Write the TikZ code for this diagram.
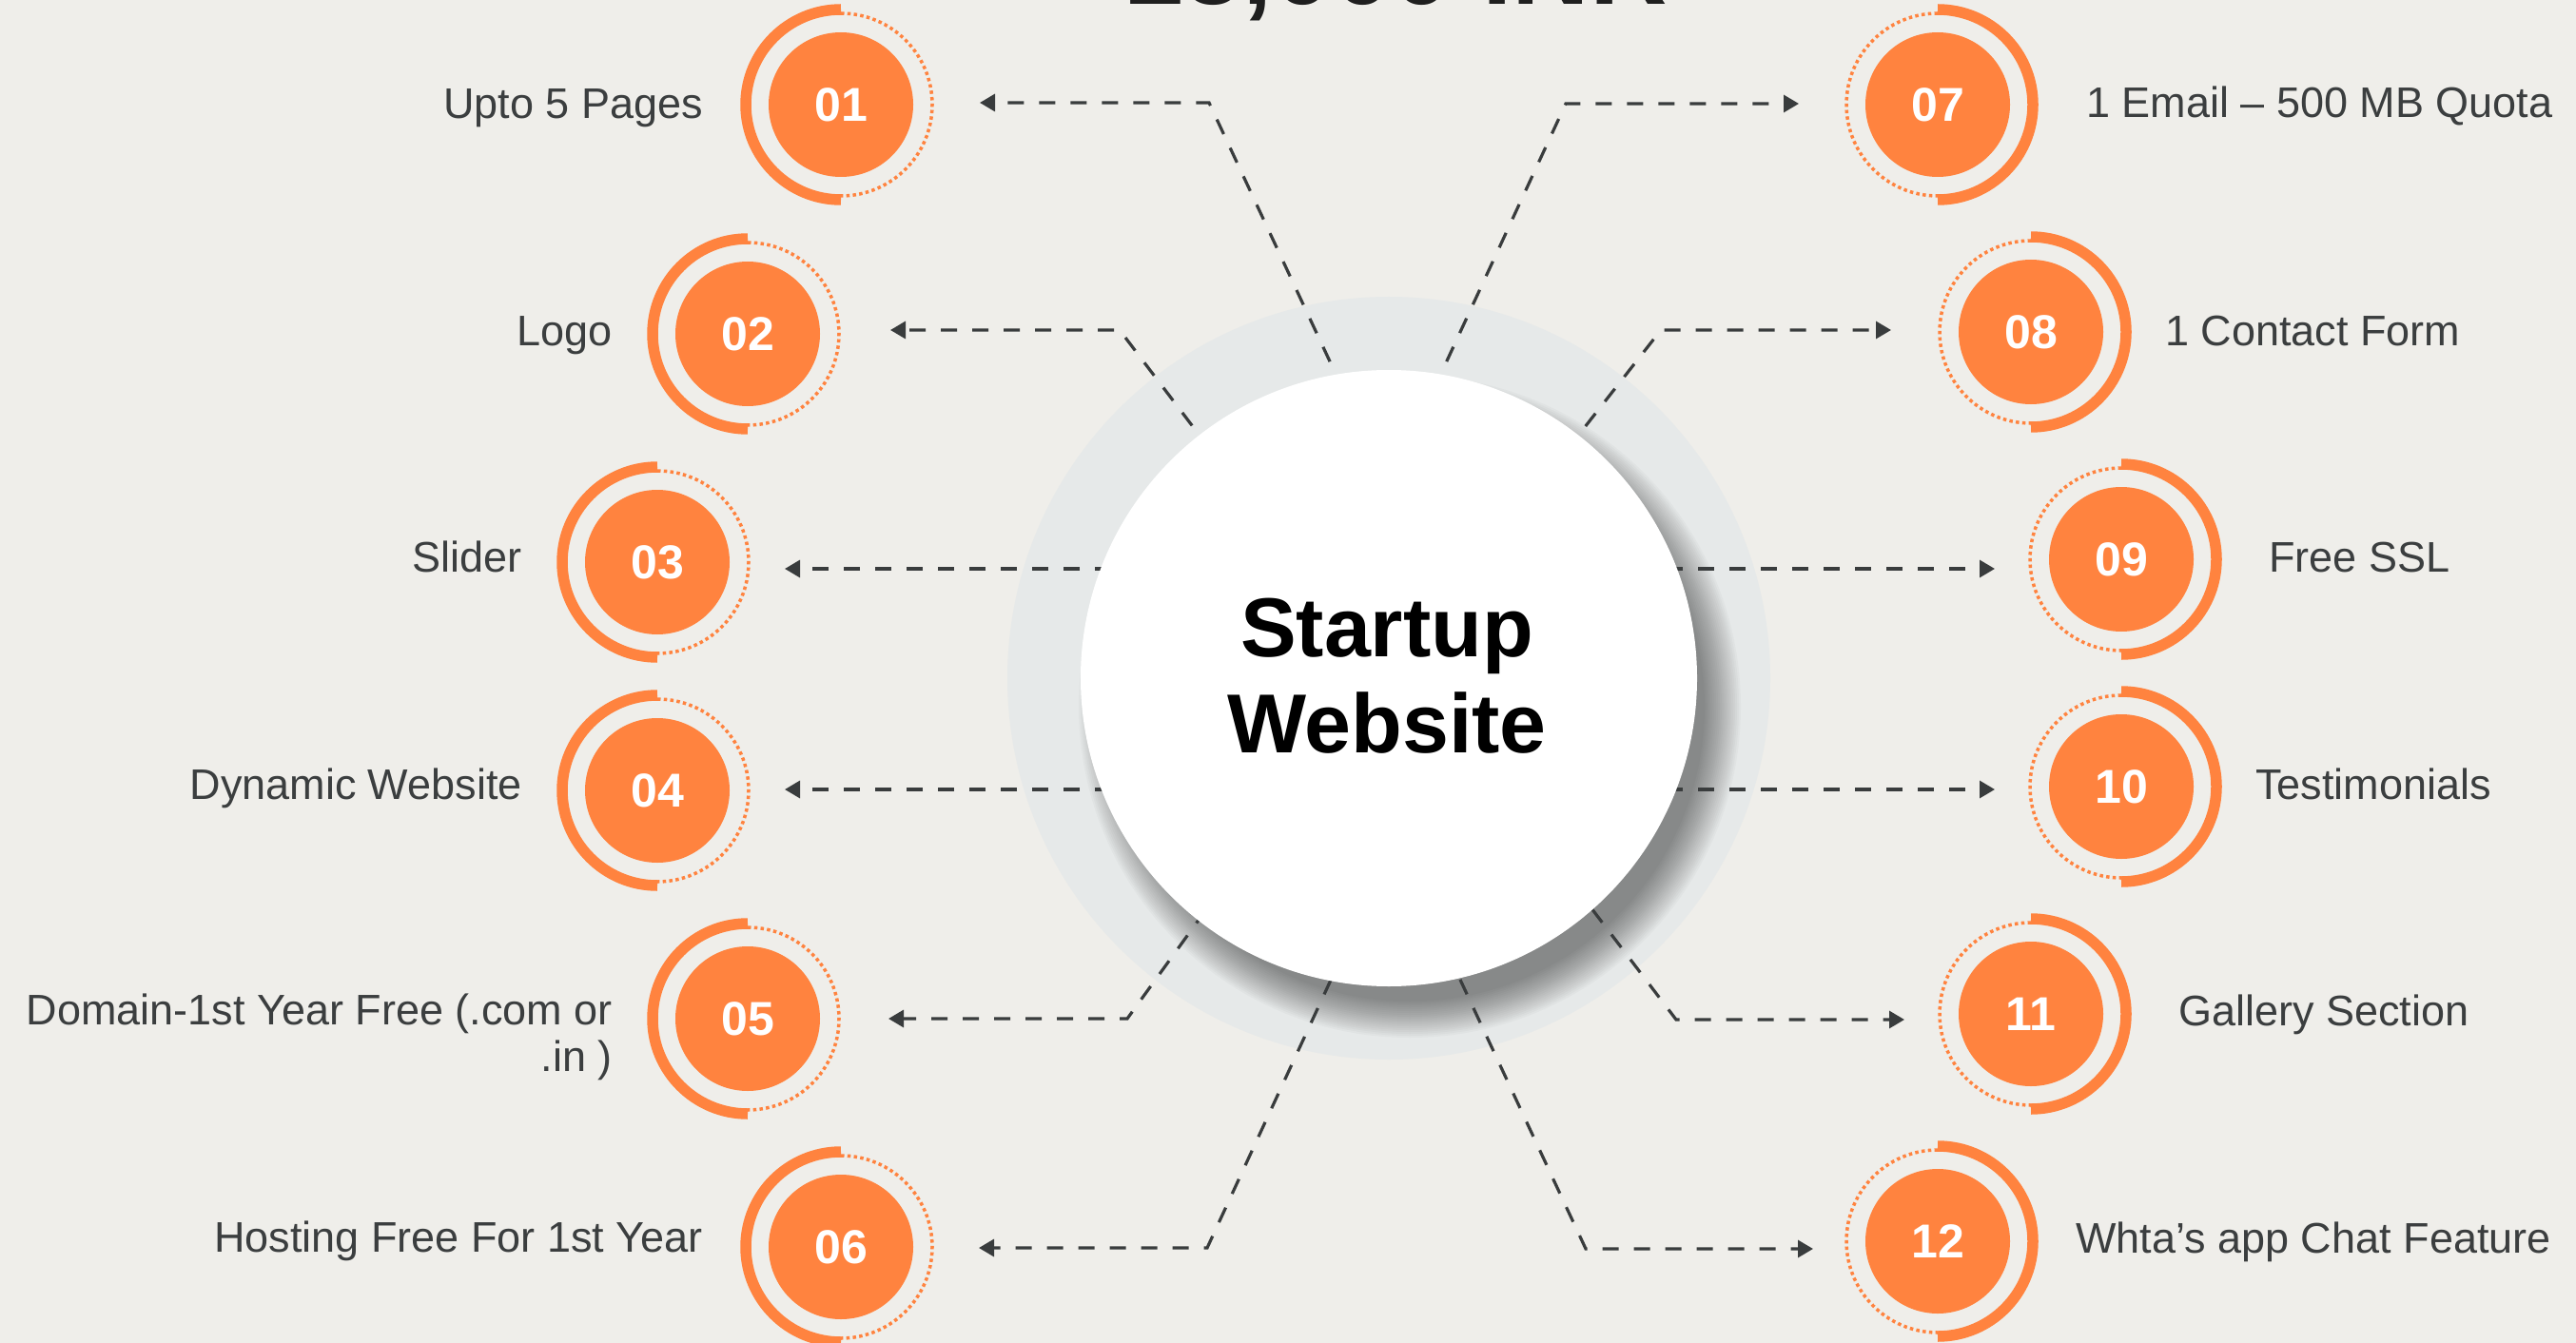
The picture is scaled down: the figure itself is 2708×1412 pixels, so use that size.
\documentclass[tikz,border=0pt]{standalone}
\usepackage{fontspec}
\setmainfont{Liberation Sans}
\usetikzlibrary{arrows.meta}
\definecolor{bgc}{RGB}{239,238,234}
\definecolor{haloc}{RGB}{230,233,233}
\definecolor{org}{RGB}{255,131,63}
\definecolor{lnc}{RGB}{57,60,61}
\definecolor{txc}{RGB}{59,62,63}
\begin{document}
\begin{tikzpicture}[x=1pt,y=-1pt,
 badge/.style={circle,fill=org,minimum size=152pt,inner sep=0pt,text=white,font=\fontsize{50}{60}\selectfont\bfseries},
 ringarc/.style={draw=org,line width=11.5pt},
 dotarc/.style={draw=org,line width=3.5pt,dash pattern=on 3.5pt off 3.3pt},
 lbl/.style={text=txc,font=\fontsize{45}{54}\selectfont,inner sep=0pt},
 conn/.style={draw=lnc,line width=3.2pt,dash pattern=on 17pt off 16pt,-{Triangle[length=16pt,width=18pt]}},
]
\fill[bgc] (0,0) rectangle (2708,1412);
\useasboundingbox (0,0) rectangle (2708,1412);

% title (cut by the top edge, as in the reference)
\node[anchor=base,inner sep=0pt,font=\fontsize{113}{113}\selectfont\bfseries,text=black!88] (title) at (1467,5) {15,000 INR};

% halo and soft shadow (lower right)
\fill[haloc] (1460,713) circle (401pt);
\foreach \i in {0,...,19}{
  \fill[black,opacity=0.024] (1482,743) circle ({348-2*\i pt});
}

% coordinates of connectors
\coordinate (s1) at (1426,440); \coordinate (m1) at (1271,108); \coordinate (t1) at (1030,108);
\coordinate (s2) at (1293,500); \coordinate (m2) at (1177,347); \coordinate (t2) at (936,347);
\coordinate (s3) at (1300,598); \coordinate (t3) at (825,598);
\coordinate (s4) at (1300,830); \coordinate (t4) at (825,830);
\coordinate (s5) at (1287,930); \coordinate (m5) at (1185,1071); \coordinate (t5) at (934,1071);
\coordinate (s6) at (1413,1000); \coordinate (m6) at (1269,1312); \coordinate (t6) at (1029,1312);
\coordinate (s7) at (1493,440); \coordinate (m7) at (1646,109); \coordinate (t7) at (1891,109);
\coordinate (s8) at (1626,500); \coordinate (m8) at (1746,347); \coordinate (t8) at (1988,347);
\coordinate (s9) at (1620,598); \coordinate (t9) at (2097,598);
\coordinate (s10) at (1620,830); \coordinate (t10) at (2097,830);
\coordinate (s11) at (1654,930); \coordinate (m11) at (1762,1072); \coordinate (t11) at (2002,1072);
\coordinate (s12) at (1521,1000); \coordinate (m12) at (1667,1313); \coordinate (t12) at (1906,1313);

\draw[conn] (s1) -- (m1) -- (t1);
\draw[conn] (s2) -- (m2) -- (t2);
\draw[conn] (s3) -- (t3);
\draw[conn] (s4) -- (t4);
\draw[conn] (s5) -- (m5) -- (t5);
\draw[conn] (s6) -- (m6) -- (t6);
\draw[conn] (s7) -- (m7) -- (t7);
\draw[conn] (s8) -- (m8) -- (t8);
\draw[conn] (s9) -- (t9);
\draw[conn] (s10) -- (t10);
\draw[conn] (s11) -- (m11) -- (t11);
\draw[conn] (s12) -- (m12) -- (t12);

% centre
\node[circle,fill=white,minimum size=648pt,inner sep=0pt] (ctr) at (1460,713) {};
\node[align=center,inner sep=0pt,font=\fontsize{88}{101}\selectfont\bfseries,text=black] (ctrtext) at (1458,711) {Startup\\Website};

% badges left
\foreach \n/\x/\y in {01/884/110,02/786/351,03/691/591,04/691/831,05/786/1071,06/884/1311}{
  \node[badge] (b\n) at (\x,\y) {\n};
  \draw[ringarc] ([yshift=100pt]b\n.center) arc[start angle=90,end angle=270,radius=100pt];
  \draw[dotarc] ([yshift=96pt]b\n.center) arc[start angle=90,end angle=-90,radius=96pt];
}
% badges right
\foreach \n/\x/\y in {07/2037/110,08/2135/349,09/2230/588,10/2230/827,11/2135/1066,12/2037/1305}{
  \node[badge] (b\n) at (\x,\y) {\n};
  \draw[ringarc] ([yshift=100pt]b\n.center) arc[start angle=90,end angle=-90,radius=100pt];
  \draw[dotarc] ([yshift=96pt]b\n.center) arc[start angle=90,end angle=270,radius=96pt];
}

% labels left
\node[lbl,anchor=base east] (l1) at (739,125) {Upto 5 Pages};
\node[lbl,anchor=base east] (l2) at (644,363) {Logo};
\node[lbl,anchor=base east] (l3) at (549,601) {Slider};
\node[lbl,anchor=base east] (l4) at (549,840) {Dynamic Website};
\node[lbl,anchor=base east] (l5a) at (644,1077) {Domain-1st Year Free (.com or};
\node[lbl,anchor=base east] (l5b) at (644,1126) {.in )};
\node[lbl,anchor=base east] (l6) at (739,1316) {Hosting Free For 1st Year};
% labels right
\node[lbl,anchor=base west] (l7) at (2193,124) {1 Email – 500 MB Quota};
\node[lbl,anchor=base west] (l8) at (2276,363) {1 Contact Form};
\node[lbl,anchor=base west] (l9) at (2385,601) {Free SSL};
\node[lbl,anchor=base west] (l10) at (2371,840) {Testimonials};
\node[lbl,anchor=base west] (l11) at (2290,1078) {Gallery Section};
\node[lbl,anchor=base west] (l12) at (2182,1317) {Whta’s app Chat Feature};
\end{tikzpicture}
\end{document}
